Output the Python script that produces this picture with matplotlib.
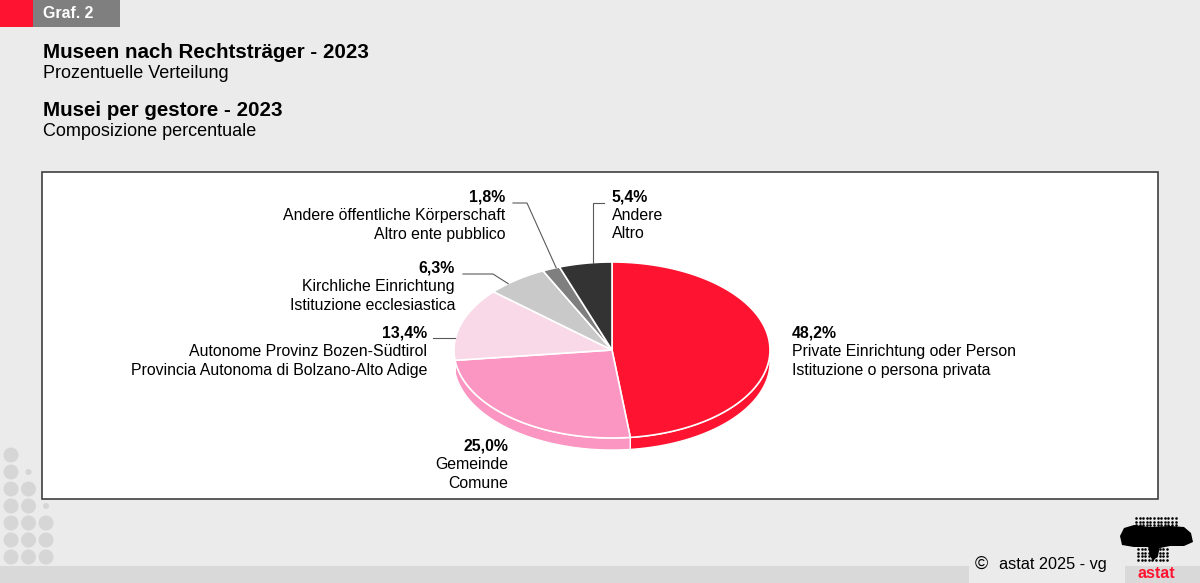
import matplotlib
matplotlib.use("Agg")
import matplotlib.pyplot as plt
from matplotlib.patches import Rectangle, Polygon, Circle
import numpy as np

plt.rcParams['font.family'] = ['Liberation Sans', 'DejaVu Sans']

# data (clockwise from 12 o'clock)
shares = [48.2, 25.0, 13.4, 6.3, 1.8, 5.4]
pct_labels = ["48,2%", "25,0%", "13,4%", "6,3%", "1,8%", "5,4%"]
names_de = ["Private Einrichtung oder Person", "Gemeinde",
            "Autonome Provinz Bozen-Südtirol", "Kirchliche Einrichtung",
            "Andere öffentliche Körperschaft", "Andere"]
names_it = ["Istituzione o persona privata", "Comune",
            "Provincia Autonoma di Bolzano-Alto Adige", "Istituzione ecclesiastica",
            "Altro ente pubblico", "Altro"]
colors = ["#fe1430", "#fb95c2", "#f9d9e7", "#c9c9c9", "#7f7f7f", "#333333"]

titles = ["Museen nach Rechtsträger - 2023", "Prozentuelle Verteilung",
          "Musei per gestore - 2023", "Composizione percentuale"]

W, H = 1200, 583
fig = plt.figure(figsize=(12, 5.83), dpi=100)
fig.patch.set_facecolor('#ebebeb')
ax = fig.add_axes([0, 0, 1, 1])
ax.set_xlim(0, W)
ax.set_ylim(H, 0)
ax.axis('off')

# header
ax.add_patch(Rectangle((0, 0), 33, 27, color='#fe1430', lw=0))
ax.add_patch(Rectangle((33, 0), 87, 27, color='#7f7f7f', lw=0))
ax.text(43, 14, "Graf. 2", color='white', fontsize=11.4, fontweight='bold', va='center')

ax.text(43, 52, titles[0], fontsize=14.8, fontweight='bold', va='center')
ax.text(43, 74, titles[1], fontsize=13, va='center')
ax.text(43, 110, titles[2], fontsize=14.8, fontweight='bold', va='center')
ax.text(43, 131, titles[3], fontsize=13, va='center')

# chart box
ax.add_patch(Rectangle((42, 172), 1116, 327, facecolor='white', edgecolor='#404040', lw=1.2))

# 3d pie
cx, cy, rx, ry, depth = 612, 350, 158, 88, 12
bounds = np.concatenate([[0], np.cumsum(shares)]) / sum(shares) * 2 * np.pi

def rim(t, dy=0):
    t = np.atleast_1d(t)
    return np.column_stack([cx + rx * np.sin(t), cy - ry * np.cos(t) + dy])

for i in range(len(shares)):
    lo = max(bounds[i], np.pi / 2)
    hi = min(bounds[i + 1], 3 * np.pi / 2)
    if lo < hi:
        t = np.linspace(lo, hi, 80)
        pts = np.vstack([rim(t), rim(t[::-1], depth)])
        ax.add_patch(Polygon(pts, closed=True, facecolor=colors[i], edgecolor='white', lw=1))

for i in range(len(shares)):
    t = np.linspace(bounds[i], bounds[i + 1], 120)
    pts = np.vstack([[cx, cy], rim(t)])
    ax.add_patch(Polygon(pts, closed=True, facecolor=colors[i], edgecolor='white', lw=1.2))

# labels: (x, y of first line, align)
label_pos = [(792, 333, 'left'), (508, 446, 'right'), (427, 333, 'right'),
             (455, 268, 'right'), (505, 197, 'right'), (612, 197, 'left')]
# leader: start point, optional elbow, anchor fraction in slice
leaders = [None, None,
           ((433, None), None, 0.30),
           ((463, 274), (493, 274), 0.33),
           ((513, 203), (527, 203), 0.80),
           ((604, 203), (593, 203), 0.62)]

fs = 11.4
for i in range(len(shares)):
    x, y, ha = label_pos[i]
    ax.text(x, y, pct_labels[i], fontsize=fs, fontweight='bold', ha=ha, va='center')
    ax.text(x, y + 18.5, names_de[i], fontsize=fs, ha=ha, va='center')
    ax.text(x, y + 37, names_it[i], fontsize=fs, ha=ha, va='center')
    if leaders[i] is not None:
        start, elbow, frac = leaders[i]
        t = bounds[i] + frac * (bounds[i + 1] - bounds[i])
        end = rim(t)[0]
        sx, sy = start
        if sy is None:
            sy = end[1]
        xs, ys = [sx], [sy]
        if elbow is not None:
            xs.append(elbow[0]); ys.append(elbow[1])
            if ha == 'left':
                end = [elbow[0], end[1]]
        xs.append(end[0]); ys.append(end[1])
        ax.plot(xs, ys, color='#5a5a5a', lw=0.8)

# decorative dots bottom-left
for col, rows in enumerate([range(7), range(2, 7), range(4, 7)]):
    for r in rows:
        ax.add_patch(Circle((11 + 17.5 * col, 455 + 17 * r), 7.5, color='#d6d6d6', lw=0))
ax.add_patch(Circle((28.5, 472), 3, color='#d6d6d6', lw=0))
ax.add_patch(Circle((46, 506), 3, color='#d6d6d6', lw=0))

# bottom band
ax.add_patch(Rectangle((0, 566), W, 17, color='#d9d9d9', lw=0))
ax.add_patch(Rectangle((969, 550), 156, 33, color='#ebebeb', lw=0))
ax.text(975, 564, "©", fontsize=13, va='center')
ax.text(999, 564, "astat 2025 - vg", fontsize=11.7, va='center')

# logo: solid body with dotted top and tail
body = [(1120, 536), (1124, 528), (1134, 525), (1150, 527), (1170, 526), (1184, 527),
        (1191, 533), (1193, 542), (1184, 546), (1170, 546), (1160, 548), (1146, 547),
        (1134, 547), (1122, 545)]
ax.add_patch(Polygon(body, closed=True, color='black', lw=0))
gx, gy = np.meshgrid(np.arange(1136, 1178, 3.6), np.arange(518, 527, 3.5))
ax.scatter(gx.ravel(), gy.ravel(), s=3.5, color='black', lw=0)
gx, gy = np.meshgrid(np.arange(1138, 1170, 3.6), np.arange(549, 563, 3.5))
ax.scatter(gx.ravel(), gy.ravel(), s=3.5, color='black', lw=0)
ax.add_patch(Polygon([(1148, 546), (1160, 546), (1158, 556), (1153, 561), (1150, 556)],
                     closed=True, color='black', lw=0))
ax.text(1156, 573, "astat", color='#fe1430', fontsize=11.5, fontweight='bold', ha='center', va='center')

fig.savefig("out.png", dpi=100, facecolor=fig.get_facecolor())
